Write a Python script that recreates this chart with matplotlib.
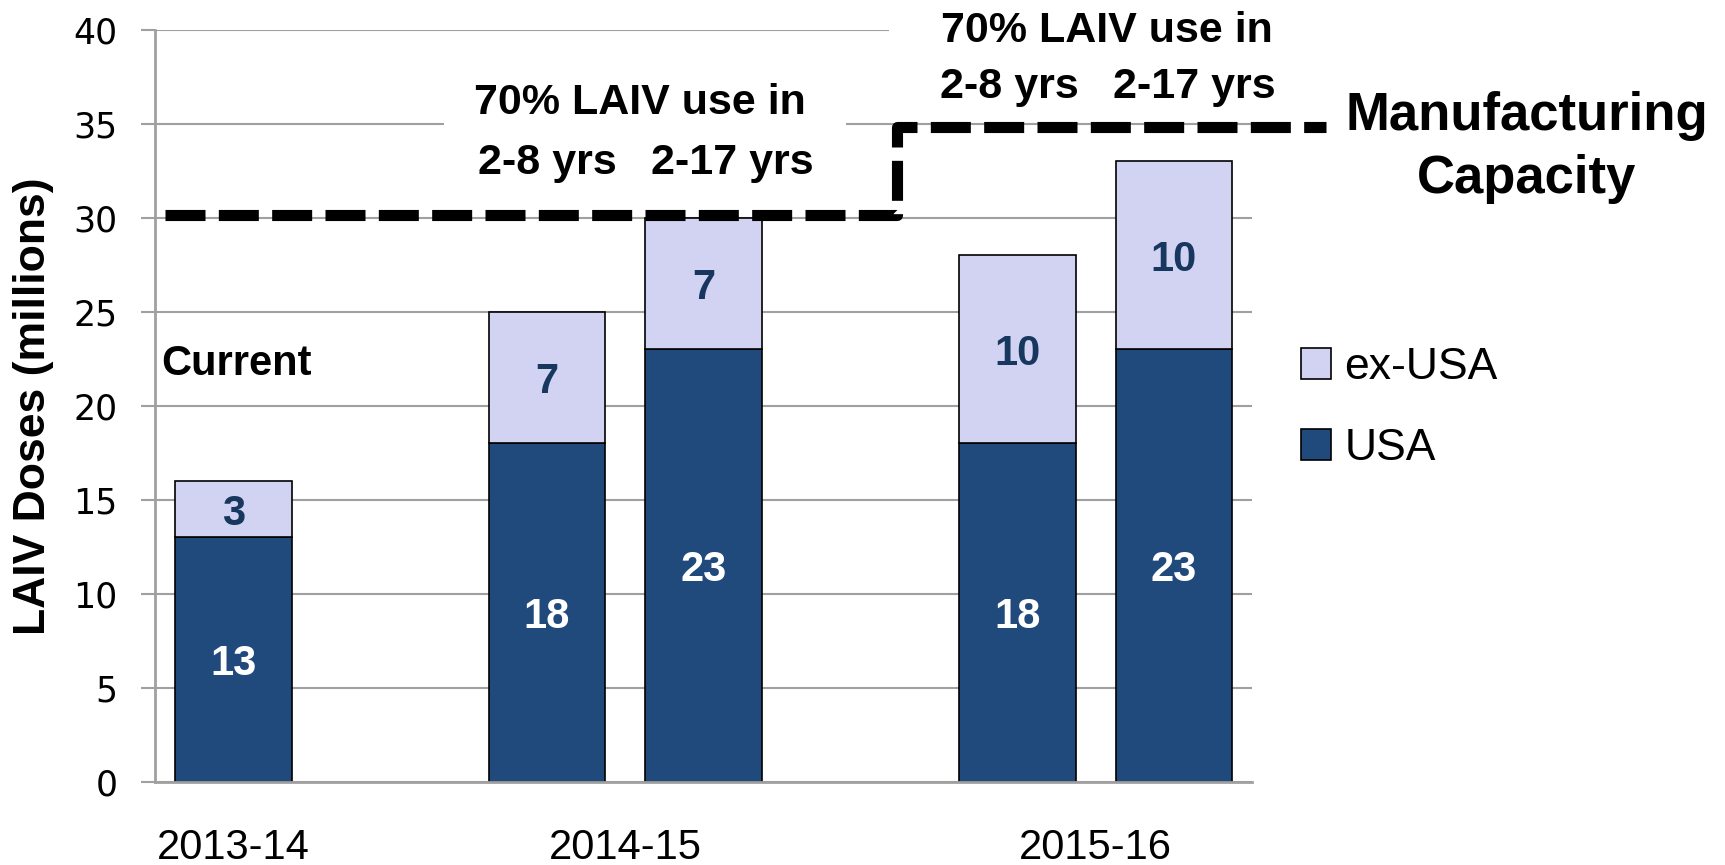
import matplotlib
matplotlib.use('Agg')
from matplotlib import pyplot as plt
from matplotlib.patches import Rectangle
import numpy as np

plt.rcParams['font.family'] = ['Liberation Sans', 'DejaVu Sans']

# data
seasons = ['2013-14', '2014-15', '2014-15', '2015-16', '2015-16']
scenarios = ['Current', '2-8 yrs', '2-17 yrs', '2-8 yrs', '2-17 yrs']
usa = [13, 18, 23, 18, 23]
ex_usa = [3, 7, 7, 10, 10]
capacity = [30, 35]
season_labels = ['2013-14', '2014-15', '2015-16']

dark = '#214A7C'
light = '#D2D2F2'
grid_c = '#A0A0A0'

# slot positions: one blank slot between seasons
pos = []
slot = 0
prev = None
for s in seasons:
    if prev is not None and s != prev:
        slot += 1
    pos.append(slot)
    slot += 1
    prev = s
pos = np.array(pos, dtype=float)

fig = plt.figure(figsize=(17.25, 8.65), dpi=100)
ax = fig.add_axes([0.0899, 0.096, 0.6361, 0.8697])

wd = 0.745
ax.bar(pos, usa, width=wd, color=dark, edgecolor='black', linewidth=1.2, label='USA', zorder=2)
ax.bar(pos, ex_usa, width=wd, bottom=usa, color=light, edgecolor='black', linewidth=1.2, label='ex-USA', zorder=2)

for x, u, e in zip(pos, usa, ex_usa):
    ax.text(x, u / 2, str(u), ha='center', va='center_baseline', color='white', fontsize=30, fontweight='bold', zorder=3)
    ax.text(x, u + e / 2, str(e), ha='center', va='center_baseline', color='#17375E', fontsize=30, fontweight='bold', zorder=3)

ax.set_xlim(-0.5, slot - 0.5)
ax.set_ylim(0, 40)
ax.set_yticks(np.arange(0, 41, 5))
ax.yaxis.grid(True, color=grid_c, linewidth=1.5, zorder=0.5)
ax.set_axisbelow(True)
ax.tick_params(axis='y', length=10, width=1.5, color=grid_c, labelsize=25, pad=17)
for t in ax.get_yticklabels():
    t.set_family('DejaVu Sans')

grp_pos = []
for lab in season_labels:
    grp_pos.append(pos[[i for i, s in enumerate(seasons) if s == lab]].mean())
ax.set_xticks(grp_pos)
ax.set_xticklabels(season_labels)
ax.tick_params(axis='x', length=0, labelsize=30, pad=33)

for sp in ['top', 'right']:
    ax.spines[sp].set_visible(False)
ax.spines['left'].set_color(grid_c)
ax.spines['left'].set_linewidth(2)
ax.spines['bottom'].set_color(grid_c)
ax.spines['bottom'].set_linewidth(2)

ax.set_ylabel('LAIV Doses (millions)', fontsize=32, fontweight='bold')
ax.yaxis.set_label_coords(-0.092, 0.5)

# white boxes behind the annotations
ax.add_patch(Rectangle((1.34, 31.5), 2.57, 6.0, facecolor='white', edgecolor='none', zorder=0.8))
ax.add_patch(Rectangle((4.18, 36.2), 2.4, 4.5, facecolor='white', edgecolor='none', zorder=0.8, clip_on=False))

# manufacturing capacity step line
step_x = 4.23
cx = [-0.437, step_x, step_x, 6.97]
cy = [capacity[0] + 0.15, capacity[0] + 0.15, capacity[1] - 0.15, capacity[1] - 0.15]
ax.plot(cx, cy, color='black', linewidth=8, linestyle=(0, (3.6, 1.2)), clip_on=False, zorder=4)

tb = dict(ha='center', va='center', fontsize=31, fontweight='bold', zorder=5)
ax.text(2.595, 36.1, '70% LAIV use in', **tb)
ax.text(2.0, 32.9, '2-8 yrs', **tb)
ax.text(3.18, 32.9, '2-17 yrs', **tb)
ax.text(5.57, 39.95, '70% LAIV use in', clip_on=False, **tb)
ax.text(4.95, 36.95, '2-8 yrs', **tb)
ax.text(6.13, 36.95, '2-17 yrs', **tb)
ax.text(-0.458, 22.2, 'Current', ha='left', va='center', fontsize=30, fontweight='bold')
ax.text(8.25, 35.4, 'Manufacturing', ha='center', va='center', fontsize=38, fontweight='bold', clip_on=False)
ax.text(8.25, 32.05, 'Capacity', ha='center', va='center', fontsize=38, fontweight='bold', clip_on=False)

h, l = ax.get_legend_handles_labels()
ax.legend(h[::-1], l[::-1], loc='center left', bbox_to_anchor=(0.7542, 0.528),
          bbox_transform=fig.transFigure, frameon=False, fontsize=32,
          handlelength=0.68, handleheight=0.68, handletextpad=0.3, labelspacing=0.9,
          borderpad=0, borderaxespad=0)

fig.savefig('out.png', dpi=100)
